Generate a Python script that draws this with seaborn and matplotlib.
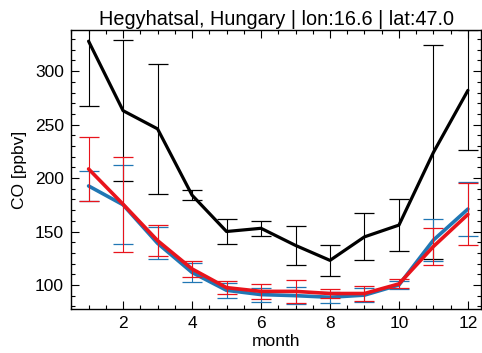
import matplotlib
matplotlib.use("Agg")
import matplotlib.pyplot as plt
from matplotlib.ticker import MultipleLocator
import seaborn as sns
import pandas as pd

# monthly CO at Hegyhatsal: observation (black) and two model runs (blue, red)
months = [1, 2, 3, 4, 5, 6, 7, 8, 9, 10, 11, 12]
obs_mean = [328, 263, 246, 184, 150, 153, 137, 123, 145, 156, 224, 282]
obs_err = [61, 66, 61, 5, 12, 7, 18.5, 14.7, 22, 24.5, 100, 56]
blue_mean = [192.6, 175, 139, 111.7, 95, 91, 90, 88.5, 90.5, 100, 142, 171]
blue_err = [14, 37, 15, 8.6, 7, 6.5, 8, 5, 6.7, 3.7, 20, 25.3]
red_mean = [208.5, 175.5, 141.5, 115, 97.5, 94, 94, 92, 92, 101, 136, 166]
red_err = [29.6, 44.5, 14.7, 7.4, 6.2, 7, 10.6, 4.3, 7, 4.2, 17, 29]

df = pd.DataFrame({
    "month": months * 3,
    "co": obs_mean + blue_mean + red_mean,
    "err": obs_err + blue_err + red_err,
    "src": ["obs"] * 12 + ["blue"] * 12 + ["red"] * 12,
})
colors = {"obs": "black", "blue": "#2077b4", "red": "#e8141c"}
widths = {"obs": 2.3, "blue": 2.6, "red": 2.6}

sns.set_style("ticks")
plt.rcParams["font.family"] = ["Liberation Sans", "DejaVu Sans"]
plt.rcParams["text.color"] = "black"
plt.rcParams["axes.labelcolor"] = "black"
plt.rcParams["xtick.color"] = "black"
plt.rcParams["ytick.color"] = "black"

fig = plt.figure(figsize=(4.82, 3.53), dpi=100)
ax = fig.add_axes([0.1473, 0.1246, 0.8507, 0.789])

for src in ["obs", "blue", "red"]:
    d = df[df.src == src]
    ax.errorbar(d["month"], d["co"], yerr=d["err"], fmt="none",
                ecolor=colors[src], elinewidth=0.8, capsize=7, capthick=0.9)
    sns.lineplot(x="month", y="co", data=d, color=colors[src],
                 linewidth=widths[src], ax=ax, legend=False)

ax.set_xlim(0.49, 12.38)
ax.set_ylim(77.5, 338)
ax.xaxis.set_major_locator(MultipleLocator(2))
ax.xaxis.set_minor_locator(MultipleLocator(0.5))
ax.yaxis.set_major_locator(MultipleLocator(50))
ax.yaxis.set_minor_locator(MultipleLocator(10))
ax.tick_params(which="both", direction="in", top=True, right=True,
               labelsize=12.5, pad=5, color="black", width=0.8)
ax.tick_params(which="major", length=6)
ax.tick_params(which="minor", length=3)
for s in ax.spines.values():
    s.set_visible(True)
    s.set_linewidth(1.0)
    s.set_color("black")

ax.set_xlabel("month", fontsize=12.5, labelpad=2)
ax.set_ylabel("CO [ppbv]", fontsize=12.5, labelpad=6)
ax.set_title("Hegyhatsal, Hungary | lon:16.6 | lat:47.0", fontsize=14.3, pad=4)

fig.savefig("out.png", dpi=100)
